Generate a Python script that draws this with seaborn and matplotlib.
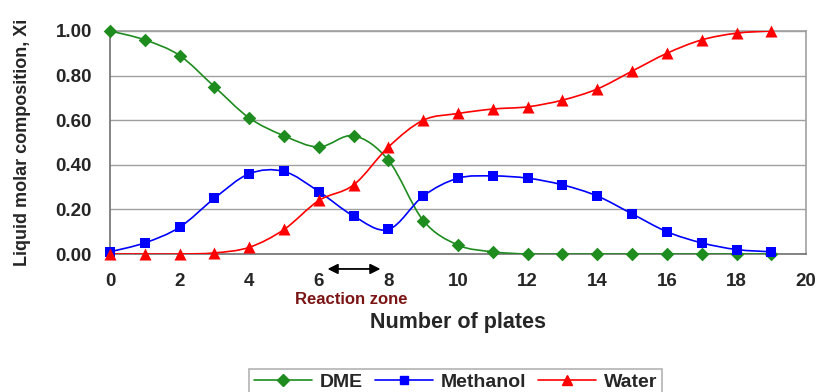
import numpy as np
import pandas as pd
import matplotlib
matplotlib.use("Agg")
import matplotlib.pyplot as plt
from matplotlib.path import Path
from matplotlib.patches import PathPatch
from matplotlib.lines import Line2D
import seaborn as sns

plates = list(range(20))
dme = [1.00, 0.96, 0.89, 0.75, 0.61, 0.53, 0.48, 0.53, 0.42, 0.15, 0.04, 0.01,
       0.0, 0.0, 0.0, 0.0, 0.0, 0.0, 0.0, 0.0]
methanol = [0.01, 0.05, 0.12, 0.25, 0.36, 0.37, 0.28, 0.17, 0.11, 0.26, 0.34, 0.35,
            0.34, 0.31, 0.26, 0.18, 0.10, 0.05, 0.02, 0.01]
water = [0.0, 0.0, 0.0, 0.005, 0.03, 0.11, 0.24, 0.31, 0.48, 0.60, 0.63, 0.65,
         0.66, 0.69, 0.74, 0.82, 0.90, 0.96, 0.99, 1.00]
series_names = ["DME", "Methanol", "Water"]
colors = {"DME": "#1E8C1E", "Methanol": "#0000FF", "Water": "#FF0000"}
markers = {"DME": "D", "Methanol": "s", "Water": "^"}
msizes = {"DME": 48, "Methanol": 55, "Water": 75}

df = pd.DataFrame({"plate": plates * 3,
                   "x": dme + methanol + water,
                   "comp": sum([[n] * len(plates) for n in series_names], [])})

sns.set_theme(style="white")
plt.rcParams['font.family'] = ['Liberation Sans', 'DejaVu Sans']

fig = plt.figure(figsize=(8.18, 3.92), dpi=100)
ax = fig.add_axes([0.1345, 0.352, 0.851, 0.569])

def smooth_path(xs, ys):
    xs = np.asarray(xs, float); ys = np.asarray(ys, float)
    pts = np.column_stack([xs, ys])
    n = len(pts)
    verts = [pts[0]]; codes = [Path.MOVETO]
    for i in range(n - 1):
        p0 = pts[i - 1] if i > 0 else pts[i]
        p1 = pts[i]; p2 = pts[i + 1]
        p3 = pts[i + 2] if i + 2 < n else pts[i + 1]
        c1 = p1 + (p2 - p0) / 6.0
        c2 = p2 - (p3 - p1) / 6.0
        verts += [c1, c2, p2]; codes += [Path.CURVE4] * 3
    return Path(verts, codes)

for name in series_names:
    sub = df[df.comp == name]
    ax.add_patch(PathPatch(smooth_path(sub.plate, sub.x), fill=False,
                           edgecolor=colors[name], lw=1.2, zorder=3))
    sns.scatterplot(data=sub, x="plate", y="x", color=colors[name],
                    marker=markers[name], s=msizes[name], linewidth=0,
                    legend=False, ax=ax, zorder=4, clip_on=False)

ax.set_xlim(0, 20)
ax.set_ylim(0, 1.0)
ax.set_xticks(range(0, 21, 2))
ax.set_yticks(np.arange(0, 1.01, 0.2))
ax.set_yticklabels([f"{v:.2f}" for v in np.arange(0, 1.01, 0.2)])
ax.yaxis.grid(True, color="#A0A0A0", lw=1.0)
ax.xaxis.grid(False)
ax.set_axisbelow(True)
for s in ["top", "right"]:
    ax.spines[s].set_color("#A0A0A0")
    ax.spines[s].set_linewidth(1.2)
for s in ["left", "bottom"]:
    ax.spines[s].set_color("#707070")
    ax.spines[s].set_linewidth(1.2)
ax.tick_params(axis="both", which="both", direction="out", length=5,
               color="#707070", width=1, labelsize=13.5, pad=8)
ax.tick_params(axis="x", pad=9)
for lab in ax.get_xticklabels() + ax.get_yticklabels():
    lab.set_fontweight("bold")
ax.set_xlabel("Number of plates", fontsize=15.5, fontweight="bold")
ax.xaxis.set_label_coords(0.5, -0.305)
ax.xaxis.label.set_va("center")
ax.set_ylabel("Liquid molar composition, Xi", fontsize=13, fontweight="bold")
ax.yaxis.set_label_coords(-0.126, 0.5)
ax.yaxis.label.set_va("center")

ax.annotate("", xy=(6.17, -0.067), xytext=(7.85, -0.067), xycoords="data",
            arrowprops=dict(arrowstyle="<|-|>", color="black", lw=1.3, mutation_scale=15),
            annotation_clip=False)
ax.text(6.94, -0.205, "Reaction zone", color="#7B1414", fontsize=12, fontweight="bold",
        ha="center", va="center", clip_on=False)

handles = [Line2D([], [], color=colors[n], marker=markers[n],
                  markersize=np.sqrt(msizes[n]) * 0.85, lw=1.2) for n in series_names]
leg = fig.legend(handles, series_names, loc="upper center", bbox_to_anchor=(0.557, 0.084),
                 ncol=3, frameon=True, fancybox=False, edgecolor="#A0A0A0",
                 prop={"weight": "bold", "size": 14}, handlelength=3.0,
                 columnspacing=0.6, handletextpad=0.4, borderpad=0.25)
leg.get_frame().set_linewidth(1.2)

fig.savefig("out.png", dpi=100)
